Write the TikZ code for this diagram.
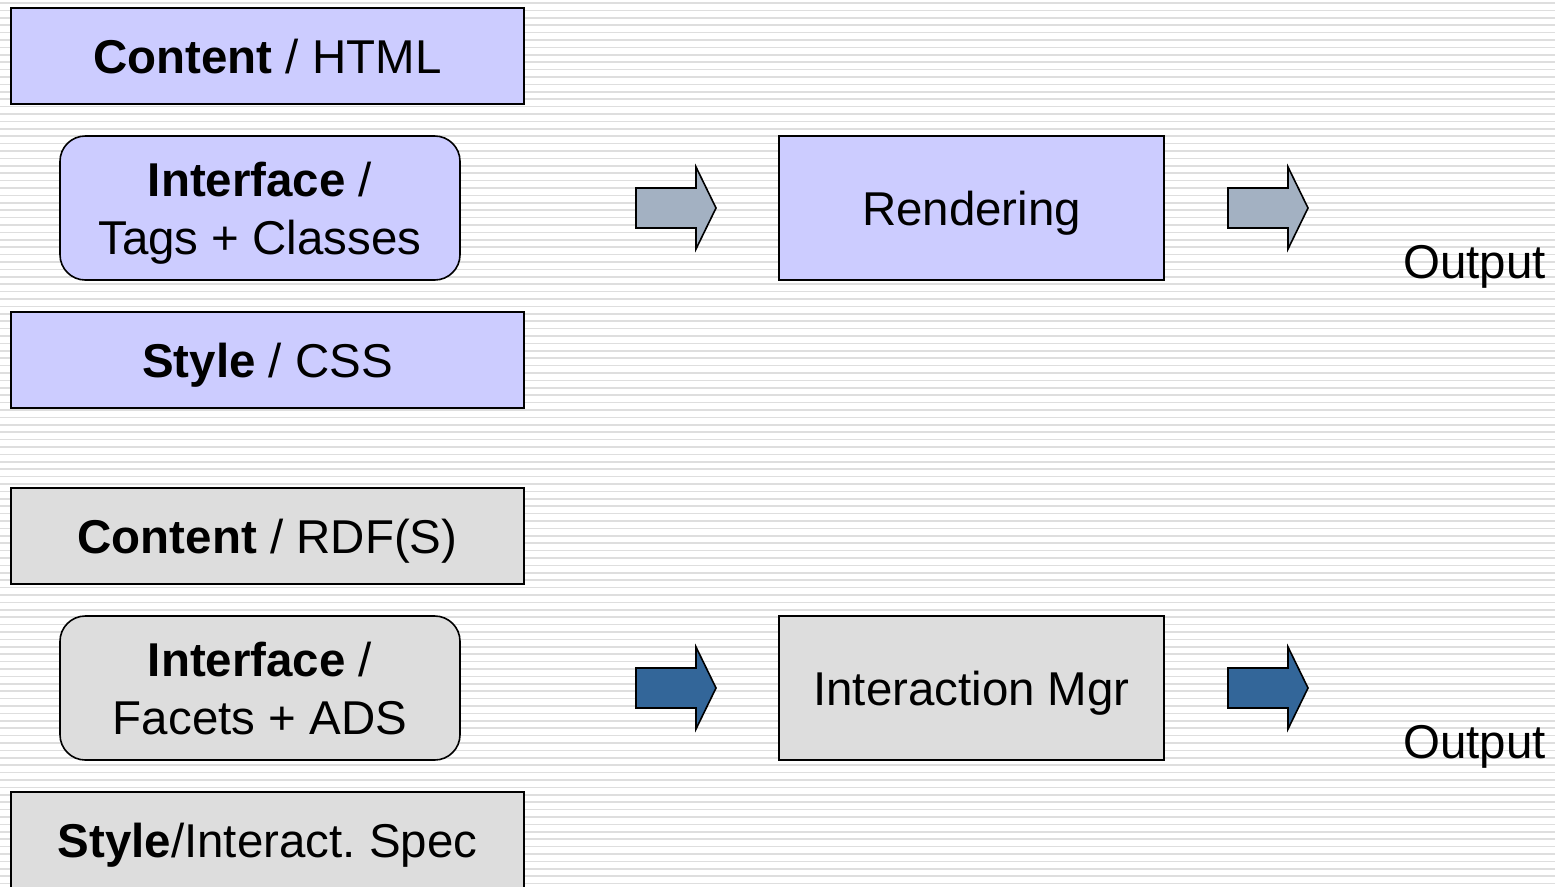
\documentclass[tikz,border=0pt]{standalone}
\usepackage{fontspec}
\setmainfont{Liberation Sans}
\frenchspacing
\definecolor{bluefill}{HTML}{CCCCFF}
\definecolor{grayfill}{HTML}{DDDDDD}
\definecolor{lightarrow}{HTML}{A3B1C2}
\definecolor{darkarrow}{HTML}{336699}
\definecolor{stripe}{HTML}{DEDEDE}
\tikzset{
  box/.style={draw=black, line width=1.2pt, inner sep=0pt, align=center,
    font=\fontsize{35.6}{43.5}\selectfont, text height=25.5pt, text depth=0pt},
  sqbox/.style={box, minimum width=513*0.75pt, minimum height=96*0.75pt},
  rbox/.style={box, rounded corners=19pt, minimum width=400*0.75pt, minimum height=144*0.75pt, text height=69pt},
  midbox/.style={box, minimum width=385*0.75pt, minimum height=144*0.75pt},
  outtext/.style={font=\fontsize{35.6}{43.5}\selectfont, inner sep=0pt, anchor=base west},
  fatarrow/.style={draw=black, line width=1.2pt, line join=miter}
}
\begin{document}
\begin{tikzpicture}[x=0.75pt, y=-0.75pt]
\useasboundingbox (0,0) rectangle (1555,886);
\fill[white] (0,0) rectangle (1555,886);
\foreach \yy in {3,10.4,...,886} {
  \draw[stripe, line width=1.3pt] (0,\yy) -- (1555,\yy);
}
% upper group
\node[sqbox, fill=bluefill] (c1) at (267.5,56) {\textbf{Content} / HTML};
\node[rbox, fill=bluefill] (i1) at (260,208) {\textbf{Interface} /\\Tags + Classes};
\node[sqbox, fill=bluefill] (s1) at (267.5,360) {\textbf{Style} / CSS};
\node[midbox, fill=bluefill] (r1) at (971.5,208) {Rendering};
\node[outtext] (o1) at (1403,278) {Output};
% lower group
\node[sqbox, fill=grayfill] (c2) at (267.5,536) {\textbf{Content} / RDF(S)};
\node[rbox, fill=grayfill] (i2) at (260,688) {\textbf{Interface} /\\Facets + ADS};
\node[sqbox, fill=grayfill] (s2) at (267.5,840) {\textbf{Style}/Interact. Spec};
\node[midbox, fill=grayfill] (r2) at (971.5,688) {Interaction Mgr};
\node[outtext] (o2) at (1403,758) {Output};
% arrows
\foreach \xx/\yy/\col [count=\k] in {636/208/lightarrow, 1228/208/lightarrow, 636/688/darkarrow, 1228/688/darkarrow} {
  \coordinate (a\k) at (\xx,\yy);
  \draw[fatarrow, fill=\col] (a\k) ++(0,-20) -- ++(60,0) -- ++(0,-21) -- ++(20,41) -- ++(-20,41) -- ++(0,-21) -- ++(-60,0) -- cycle;
}
\end{tikzpicture}
\end{document}
